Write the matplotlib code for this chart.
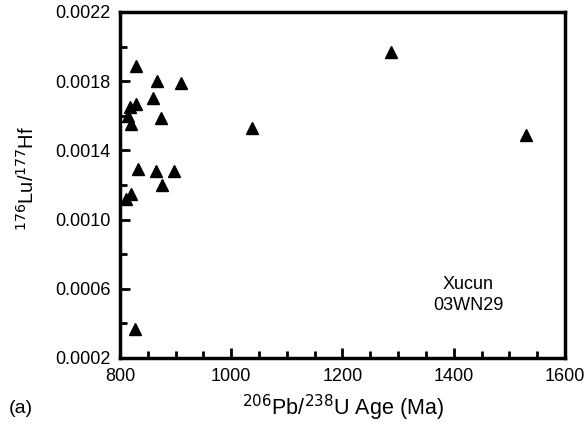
import numpy as np
import matplotlib
matplotlib.use("Agg")
import matplotlib.pyplot as plt
from matplotlib.ticker import MultipleLocator, FixedLocator, FormatStrFormatter

plt.rcParams['font.family'] = ['Liberation Sans', 'DejaVu Sans']

# 206Pb/238U age (Ma) and 176Lu/177Hf
age = [828, 867, 910, 860, 818, 828, 815, 820, 874, 1037,
       1287, 1530, 832, 865, 897, 875, 819, 810, 827]
lu_hf = [0.00189, 0.00180, 0.00179, 0.00170, 0.00165, 0.00167, 0.00160, 0.00155, 0.00159, 0.00153,
         0.00197, 0.00149, 0.00129, 0.00128, 0.00128, 0.00120, 0.00115, 0.00112, 0.00037]

y_major = [0.0002, 0.0006, 0.0010, 0.0014, 0.0018, 0.0022]
y_minor = [0.0004, 0.0008, 0.0012, 0.0016, 0.0020]

sample_label = "Xucun\n03WN29"
panel_label = "(a)"

fig = plt.figure(figsize=(5.87, 4.24), dpi=100)
ax = fig.add_axes([0.2044, 0.1557, 0.7581, 0.816])

ax.plot(age, lu_hf, linestyle='none', marker='^', markersize=9,
        color='black', markeredgecolor='black')

ax.set_xlim(800, 1600)
ax.set_ylim(0.0002, 0.0022)
ax.xaxis.set_major_locator(MultipleLocator(200))
ax.xaxis.set_minor_locator(MultipleLocator(50))
ax.yaxis.set_major_locator(FixedLocator(y_major))
ax.yaxis.set_minor_locator(FixedLocator(y_minor))
ax.yaxis.set_major_formatter(FormatStrFormatter('%.4f'))

ax.tick_params(which='both', direction='in', top=False, right=False,
               labelsize=13, width=2)
ax.tick_params(which='major', length=7, pad=7)
ax.tick_params(which='minor', length=5)
for s in ax.spines.values():
    s.set_linewidth(2.5)

ax.set_xlabel(r'$^{206}$Pb/$^{238}$U Age (Ma)', fontsize=15.5, labelpad=6)
ax.set_ylabel(r'$^{176}$Lu/$^{177}$Hf', fontsize=14.5, labelpad=12)
ax.yaxis.label.set_y(0.52)

ax.text(1426, 0.000564, sample_label, ha='center', va='center',
        fontsize=13, linespacing=1.25)
fig.text(0.015, 0.037, panel_label, fontsize=14, ha='left', va='center')

fig.savefig('out.png', dpi=100)
